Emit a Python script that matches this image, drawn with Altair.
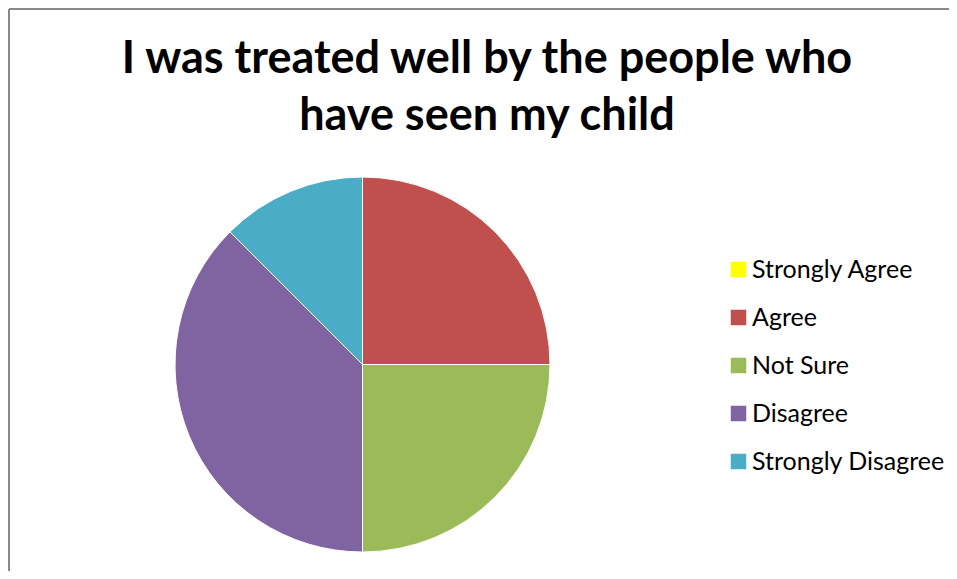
import altair as alt
import pandas as pd

categories = ["Strongly Agree", "Agree", "Not Sure", "Disagree", "Strongly Disagree"]
counts = [0, 2, 2, 3, 1]
colors = ["#FFFF00", "#C0504D", "#9BBB59", "#8064A2", "#4BACC6"]
title_lines = ["I was treated well by the people who", "have seen my child"]

df = pd.DataFrame({"category": categories, "count": counts, "order": list(range(len(categories)))})

pie = alt.Chart(df).mark_arc(stroke="white", strokeWidth=1).encode(
    theta=alt.Theta("count:Q", stack=True),
    color=alt.Color(
        "category:N",
        scale=alt.Scale(domain=categories, range=colors),
        legend=alt.Legend(
            title=None, orient="none", legendX=551, legendY=80,
            symbolType="square", symbolSize=240, symbolStrokeWidth=0,
            labelFontSize=25, labelFont="Lato", labelColor="#000000",
            rowPadding=22, labelOffset=1, labelLimit=400,
        ),
    ),
    order=alt.Order("order:Q"),
)

frame = pd.DataFrame({"k": [0]})
left = alt.Chart(frame).mark_rule(color="#898989", strokeWidth=2).encode(
    x=alt.value(-166), y=alt.value(-168), y2=alt.value(394)
)
top = alt.Chart(frame).mark_rule(color="#898989", strokeWidth=2).encode(
    x=alt.value(-166), x2=alt.value(774), y=alt.value(-168)
)

chart = alt.layer(pie, left, top).properties(
    width=375, height=375,
    title=alt.TitleParams(
        title_lines, font="Lato", fontSize=45, fontWeight="bold", color="#000000",
        anchor="middle", frame="group", dx=124.5, dy=131, offset=0, lineHeight=57,
    ),
    autosize=alt.AutoSizeParams(type="none"),
    padding={"left": 167, "top": 169, "right": 399, "bottom": 19},
    background="white",
).configure_view(stroke=None)

chart.save("out.html", embed_options={"renderer": "svg", "actions": False})
